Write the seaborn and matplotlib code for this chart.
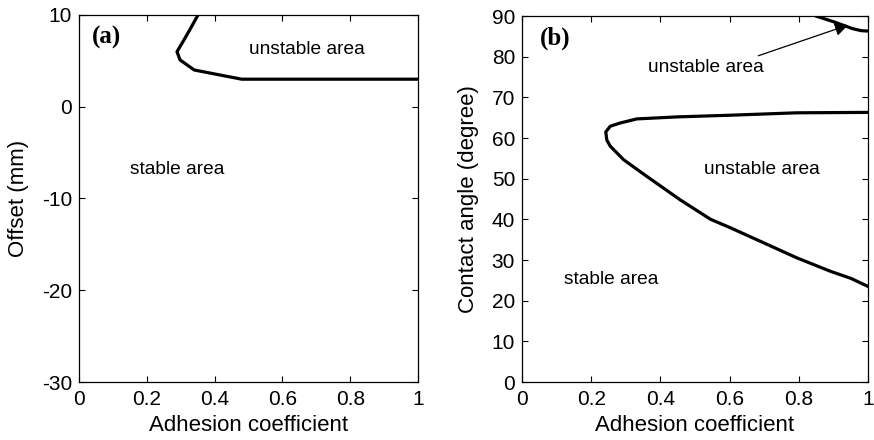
import matplotlib
matplotlib.use("Agg")
import matplotlib.pyplot as plt
import seaborn as sns
import pandas as pd

sns.set_theme(style="white")
plt.rcParams['font.family'] = ['Liberation Sans', 'DejaVu Sans']
plt.rcParams['text.color'] = 'black'
plt.rcParams['axes.labelcolor'] = 'black'

# Panel (a): boundary curve (adhesion coefficient vs offset in mm)
a_x = [0.351, 0.33, 0.31, 0.289, 0.298, 0.34, 0.48, 0.7, 1.0]
a_y = [10.0, 8.6, 7.3, 6.0, 5.1, 4.0, 3.0, 3.0, 3.0]

# Panel (b): main boundary curve (adhesion coefficient vs contact angle)
b_x = [1.0, 0.795, 0.6, 0.45, 0.332, 0.284, 0.255, 0.242, 0.245, 0.255, 0.293,
       0.36, 0.457, 0.545, 0.603, 0.699, 0.795, 0.892, 0.95, 1.0]
b_y = [66.3, 66.2, 65.6, 65.2, 64.7, 63.7, 62.9, 61.5, 59.5, 58.0, 54.7,
       50.6, 44.8, 40.0, 37.9, 34.2, 30.5, 27.2, 25.5, 23.5]

# Panel (b): upper small boundary
c_x = [0.849, 0.9, 0.955, 0.98, 1.0]
c_y = [90.0, 88.6, 86.9, 86.4, 86.3]

fig = plt.figure(figsize=(8.74, 4.4), dpi=100)
ax1 = fig.add_axes([0.0904, 0.1318, 0.3879, 0.8342])
ax2 = fig.add_axes([0.5973, 0.1318, 0.3959, 0.8318])

lw = 2.3
sns.lineplot(data=pd.DataFrame({"x": a_x, "y": a_y}), x="x", y="y", sort=False,
             ax=ax1, color="black", lw=lw, estimator=None)
sns.lineplot(data=pd.DataFrame({"x": b_x, "y": b_y}), x="x", y="y", sort=False,
             ax=ax2, color="black", lw=lw, estimator=None)
sns.lineplot(data=pd.DataFrame({"x": c_x, "y": c_y}), x="x", y="y", sort=False,
             ax=ax2, color="black", lw=lw, estimator=None)

ax1.set_xlim(0, 1)
ax1.set_ylim(-30, 10)
ax1.set_xticks([0, 0.2, 0.4, 0.6, 0.8, 1])
ax1.set_xticklabels(["0", "0.2", "0.4", "0.6", "0.8", "1"])
ax1.set_yticks([-30, -20, -10, 0, 10])
ax1.set_yticklabels(["-30", "-20", "-10", "0", "10"])
ax1.set_xlabel("Adhesion coefficient", fontsize=16, labelpad=4)
ax1.set_ylabel("Offset (mm)", fontsize=16, labelpad=9)

ax2.set_xlim(0, 1)
ax2.set_ylim(0, 90)
ax2.set_xticks([0, 0.2, 0.4, 0.6, 0.8, 1])
ax2.set_xticklabels(["0", "0.2", "0.4", "0.6", "0.8", "1"])
ax2.set_yticks(range(0, 91, 10))
ax2.set_xlabel("Adhesion coefficient", fontsize=16, labelpad=4)
ax2.set_ylabel("Contact angle (degree)", fontsize=16, labelpad=9)

for ax in (ax1, ax2):
    for s in ax.spines.values():
        s.set_visible(True)
        s.set_color("black")
        s.set_linewidth(0.9)
    ax.tick_params(direction="in", length=4, width=0.8, top=True, right=True,
                   bottom=True, left=True, labelsize=15, colors="black",
                   labelcolor="black")
    ax.tick_params(axis="x", pad=6)
    ax.tick_params(axis="y", pad=5)
    ax.grid(False)

ax1.text(0.08, 7.6, "(a)", fontsize=18, fontweight="bold", family=["Liberation Serif"],
         ha="center", va="center")
ax1.text(0.672, 6.2, "unstable area", fontsize=13.8, ha="center", va="center")
ax1.text(0.289, -6.8, "stable area", fontsize=13.8, ha="center", va="center")

ax2.text(0.095, 84.6, "(b)", fontsize=18, fontweight="bold", family=["Liberation Serif"],
         ha="center", va="center")
ax2.text(0.53, 77.3, "unstable area", fontsize=13.8, ha="center", va="center")
ax2.text(0.694, 52.2, "unstable area", fontsize=13.8, ha="center", va="center")
ax2.text(0.258, 25.1, "stable area", fontsize=13.8, ha="center", va="center")
ax2.annotate("", xy=(0.95, 88.0), xytext=(0.675, 80.0),
             arrowprops=dict(arrowstyle="-|>", color="black", lw=0.9,
                             mutation_scale=20))

fig.savefig("out.png", dpi=100)
